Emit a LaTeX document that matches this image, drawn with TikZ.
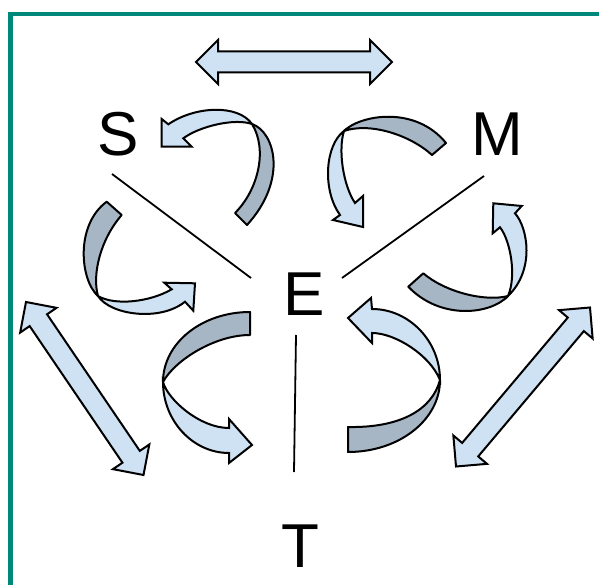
\documentclass[tikz,border=0pt]{standalone}
\usepackage{fontspec}
\setmainfont{Liberation Sans}
\usetikzlibrary{calc}
\definecolor{teal}{HTML}{00897B}
\definecolor{riblight}{HTML}{CFE2F3}
\definecolor{ribdark}{HTML}{A6B6C5}
\tikzset{
  lbl/.style={inner sep=0pt, font=\fontsize{62}{62}\selectfont},
  darkband/.style={fill=ribdark, draw=black, line width=2pt, line join=round},
  lightband/.style={fill=riblight, draw=black, line width=2pt, line join=miter},
  sep/.style={draw=black, line width=1.8pt},
  frame/.style={draw=teal, line width=4.5pt}
}
\newcommand{\dblarr}[2]{%
  \coordinate (#1h) at ($(#1)!22pt!(#2)$);
  \coordinate (#2h) at ($(#2)!22pt!(#1)$);
  \filldraw[lightband] (#1) -- ($(#1h)!22pt!90:(#2)$) -- ($(#1h)!10.5pt!90:(#2)$)
    -- ($(#2h)!10.5pt!-90:(#1)$) -- ($(#2h)!22pt!-90:(#1)$) -- (#2)
    -- ($(#2h)!22pt!90:(#1)$) -- ($(#2h)!10.5pt!90:(#1)$)
    -- ($(#1h)!10.5pt!-90:(#2)$) -- ($(#1h)!22pt!-90:(#2)$) -- cycle;}
\begin{document}
\begin{tikzpicture}[x=1pt,y=-1pt]
\useasboundingbox (0,0) rectangle (599,585);
% frame
\draw[frame] (10.7,585) -- (10.7,14) -- (599,14);
% labels
\node[lbl] (S) at (118.5,134) {S};
\node[lbl] (M) at (497.5,134) {M};
\node[lbl] (E) at (304,294) {E};
\node[lbl] (T) at (300.5,546) {T};
% separating lines
\coordinate (s1) at (112,174); \coordinate (s2) at (251,278);
\coordinate (m1) at (484,176); \coordinate (m2) at (342,278);
\coordinate (t1) at (296,335); \coordinate (t2) at (294,472);
\draw[sep] (s1) -- (s2);
\draw[sep] (m1) -- (m2);
\draw[sep] (t1) -- (t2);
% straight double arrows
\coordinate (ta) at (196,62); \coordinate (tb) at (392,62);
\dblarr{ta}{tb}
\coordinate (la) at (26,302); \coordinate (lb) at (143.5,475);
\dblarr{la}{lb}
\coordinate (ra) at (590,307.5); \coordinate (rb) at (456,466.5);
\dblarr{ra}{rb}
% curved arrow A (near S)
\coordinate (ac) at (252,124);
\filldraw[darkband] (ac) .. controls (275,132) and (288,180) .. (247,225) -- (235,213)
  .. controls (258,190) and (268,150) .. (ac) -- cycle;
\filldraw[lightband] (ac) .. controls (235,118) and (200,126) .. (183.3,138.3)
  -- (191.7,146.7) -- (161.7,146.7) -- (161.7,119) -- (168.3,124.3)
  .. controls (195,106) and (238,104) .. (ac) -- cycle;
% curved arrow B (near M)
\coordinate (bc) at (344,131);
\filldraw[darkband] (bc) .. controls (360,115) and (415,105) .. (446,143) -- (432,155)
  .. controls (410,135) and (370,122) .. (bc) -- cycle;
\filldraw[lightband] (bc) .. controls (325,145) and (322,190) .. (340,215)
  -- (333,220) -- (363,227) -- (363,196) -- (355,203)
  .. controls (343,185) and (338,150) .. (bc) -- cycle;
% curved arrow C (left middle)
\coordinate (cc) at (98,296);
\filldraw[darkband] (cc) .. controls (80,280) and (75,225) .. (106.7,201.7) -- (121.7,215)
  .. controls (100,240) and (92,275) .. (cc) -- cycle;
\filldraw[lightband] (cc) .. controls (110,315) and (160,322) .. (185,301.7)
  -- (193.3,310.7) -- (195,283.3) -- (164.3,282.7) -- (171.7,289.3)
  .. controls (150,302) and (115,306) .. (cc) -- cycle;
% curved arrow D (right middle)
\coordinate (dc) at (508,296);
\filldraw[darkband] (dc) .. controls (490,315) and (440,320) .. (408.3,286.7) -- (423.3,273.3)
  .. controls (445,292) and (485,302) .. (dc) -- cycle;
\filldraw[lightband] (dc) .. controls (535,270) and (528,228) .. (515,213.3)
  -- (521.7,206) -- (493.3,203.3) -- (492.7,233.3) -- (500,227.3)
  .. controls (510,240) and (517,275) .. (dc) -- cycle;
% curved arrow E (lower left)
\coordinate (ec) at (163,382);
\filldraw[darkband] (250,312) .. controls (202,312) and (163,343) .. (ec)
  .. controls (175,360) and (215,335) .. (250,335) -- cycle;
\filldraw[lightband] (ec) .. controls (163,421) and (193,453) .. (229,453)
  -- (229,463) -- (252,445) -- (229,419) -- (229,428)
  .. controls (200,428) and (168,400) .. (ec) -- cycle;
% curved arrow F (lower right)
\coordinate (fc) at (440,380);
\filldraw[darkband] (fc) .. controls (440,420) and (399,452) .. (348,452) -- (348,427)
  .. controls (400,428) and (432,410) .. (fc) -- cycle;
\filldraw[lightband] (fc) .. controls (440,341) and (409,309) .. (372,309)
  -- (371,298) -- (348,318) -- (372,343) -- (372,333)
  .. controls (395,333) and (430,355) .. (fc) -- cycle;
\end{tikzpicture}
\end{document}
